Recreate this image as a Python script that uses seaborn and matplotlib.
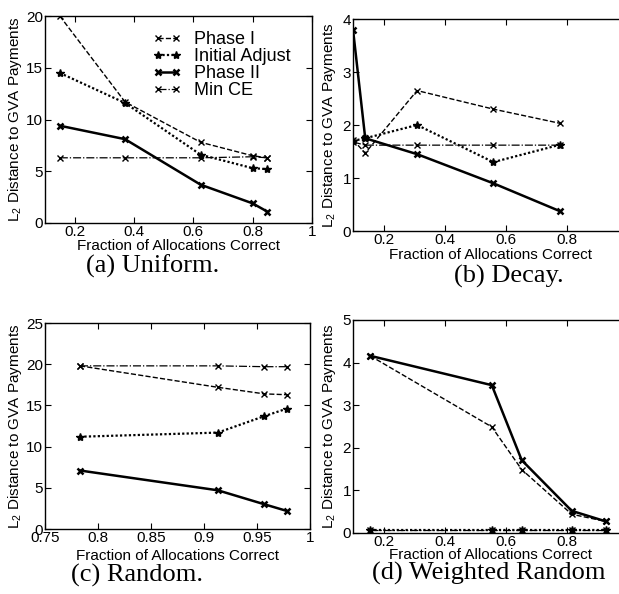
import seaborn as sns
import matplotlib.pyplot as plt
from matplotlib.ticker import FormatStrFormatter

sns.set_style('ticks')
plt.rcParams['font.family'] = ['Liberation Sans', 'DejaVu Sans']
plt.rcParams['mathtext.default'] = 'regular'
plt.rcParams['text.color'] = 'black'
plt.rcParams['axes.labelcolor'] = 'black'
plt.rcParams['xtick.color'] = 'black'
plt.rcParams['ytick.color'] = 'black'

# (a) Uniform
a_x = [0.15, 0.37, 0.625, 0.80, 0.85]
a_phase1 = [20.0, 11.7, 7.8, 6.5, 6.3]
a_adjust = [14.5, 11.6, 6.6, 5.3, 5.2]
a_phase2 = [9.4, 8.1, 3.7, 1.9, 1.1]
a_mince = [6.3, 6.3, 6.3, 6.4, 6.3]

# (b) Decay
b_x = [0.10, 0.14, 0.31, 0.56, 0.78]
b_phase1 = [1.72, 1.47, 2.65, 2.30, 2.03]
b_adjust = [1.70, 1.75, 2.00, 1.30, 1.63]
b_phase2 = [3.80, 1.75, 1.45, 0.90, 0.37]
b_mince = [1.68, 1.62, 1.62, 1.62, 1.62]

# (c) Random
c_x = [0.783, 0.913, 0.957, 0.978]
c_phase1 = [19.8, 17.2, 16.4, 16.3]
c_adjust = [11.2, 11.7, 13.7, 14.6]
c_phase2 = [7.1, 4.7, 3.0, 2.2]
c_mince = [19.8, 19.8, 19.7, 19.7]

# (d) Weighted Random
d_x = [0.156, 0.555, 0.653, 0.817, 0.93]
d_phase1 = [4.16, 2.49, 1.49, 0.44, 0.27]
d_adjust = [0.06, 0.06, 0.06, 0.06, 0.06]
d_phase2 = [4.16, 3.47, 1.71, 0.52, 0.27]
d_mince = [0.07, 0.07, 0.07, 0.07, 0.07]

names = ['Phase I', 'Initial Adjust', 'Phase II', 'Min CE']
styles = [
    dict(linestyle='--', marker='x', lw=1.0, ms=5, mew=1.0),
    dict(linestyle=(0, (1, 1)), marker='*', lw=1.6, ms=6, mew=1.0),
    dict(linestyle='-', marker='x', lw=1.8, ms=5, mew=1.8),
    dict(linestyle='-.', marker='x', lw=0.9, ms=5, mew=1.0),
]

panels = [
    (a_x, [a_phase1, a_adjust, a_phase2, a_mince], (0.1, 1), (0, 20),
     [0.2, 0.4, 0.6, 0.8, 1], [0, 5, 10, 15, 20], '(a) Uniform.'),
    (b_x, [b_phase1, b_adjust, b_phase2, b_mince], (0.1, 1), (0, 4),
     [0.2, 0.4, 0.6, 0.8], [0, 1, 2, 3, 4], '(b) Decay.'),
    (c_x, [c_phase1, c_adjust, c_phase2, c_mince], (0.75, 1), (0, 25),
     [0.75, 0.8, 0.85, 0.9, 0.95, 1], [0, 5, 10, 15, 20, 25], '(c) Random.'),
    (d_x, [d_phase1, d_adjust, d_phase2, d_mince], (0.1, 1), (0, 5),
     [0.2, 0.4, 0.6, 0.8], [0, 1, 2, 3, 4, 5], '(d) Weighted Random'),
]

rects = [
    [0.0727, 0.6246, 0.4310, 0.3484],
    [0.5703, 0.6111, 0.4435, 0.3569],
    [0.0727, 0.1094, 0.4281, 0.3468],
    [0.5703, 0.1027, 0.4435, 0.3586],
]
ylab_x = [-0.080, -0.055, -0.080, -0.055]
xlab_y = [-0.075, -0.08, -0.095, -0.07]
caps = [(0.247, 0.552), (0.822, 0.535), (0.222, 0.032), (0.79, 0.035)]

fig = plt.figure(figsize=(6.19, 5.94), dpi=100)

for i, (xs, series, xl, yl, xt, yt, cap) in enumerate(panels):
    ax = fig.add_axes(rects[i])
    for name, ys, st in zip(names, series, styles):
        sns.lineplot(x=xs, y=ys, ax=ax, color='black', label=name,
                     markeredgecolor='black', markerfacecolor='black', **st)
    ax.set_xlim(*xl)
    ax.set_ylim(*yl)
    ax.set_xticks(xt)
    ax.set_yticks(yt)
    ax.xaxis.set_major_formatter(FormatStrFormatter('%g'))
    ax.yaxis.set_major_formatter(FormatStrFormatter('%g'))
    ax.tick_params(direction='in', length=4, width=0.8, top=True, right=True,
                   labelsize=11, pad=1.5, colors='black')
    for sp in ax.spines.values():
        sp.set_linewidth(1.0)
        sp.set_color('black')
    ax.set_xlabel('Fraction of Allocations Correct', fontsize=11)
    ax.set_ylabel('L$_2$ Distance to GVA Payments', fontsize=11)
    ax.xaxis.set_label_coords(0.5, xlab_y[i])
    ax.yaxis.set_label_coords(ylab_x[i], 0.5)
    if i == 0:
        ax.legend(loc='upper right', bbox_to_anchor=(0.96, 0.98), frameon=False,
                  fontsize=13, numpoints=2, handlelength=1.6, handletextpad=0.7,
                  labelspacing=0.0, borderaxespad=0.2)
    else:
        ax.get_legend().remove()
    fig.text(caps[i][0], caps[i][1], cap, ha='center', va='center',
             fontsize=19, family=['Liberation Serif', 'DejaVu Serif'])

fig.savefig('out.png', dpi=100)
